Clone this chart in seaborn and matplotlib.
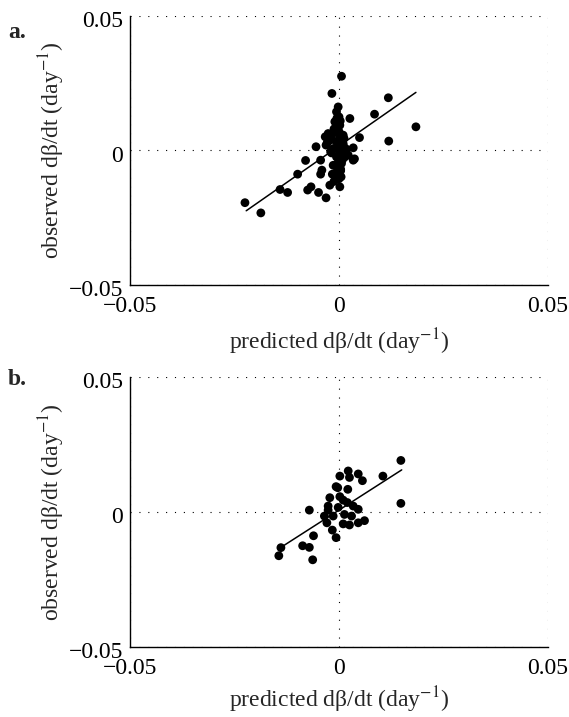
import numpy as np
import pandas as pd
import seaborn as sns
import matplotlib
matplotlib.use("Agg")
import matplotlib.pyplot as plt
from matplotlib.transforms import ScaledTranslation

# donnees (panneau a)
xa = [0.0006, -0.0017, 0.0118, 0.0184, 0.0085, 0.0119, 0.0049, -0.0225, -0.0187,
      -0.0141, -0.0123, -0.0099, -0.0080, -0.0075, -0.0067, -0.0049, -0.0031,
      -0.0022, -0.0016, -0.0044, -0.0041, -0.0044, -0.0055, 0.0002, 0.0005,
      0.0034, 0.0034, 0.0026, -0.0002, -0.0006, -0.0010, 0.0002, -0.0026,
      -0.0033, -0.0022, 0.0010, -0.0006, -0.0031, -0.0014, 0.0006, -0.0006,
      0.0014, 0.0006, -0.0014, 0.0002, -0.0010, 0.0022, 0.0037, 0.0010,
      -0.0018, 0.0000, -0.0004, 0.0004, -0.0008, 0.0012, 0.0001,
      -0.0005, 0.0003, -0.0012, 0.0000, -0.0018, 0.0005, -0.0003, -0.0020,
      0.0008, -0.0002, 0.0004, -0.0008, 0.0000, -0.0012, 0.0010, 0.0018, -0.0028]
ya = [0.0276, 0.0212, 0.0196, 0.0088, 0.0135, 0.0035, 0.0048, -0.0194, -0.0232,
      -0.0145, -0.0156, -0.0088, -0.0037, -0.0147, -0.0135, -0.0156, -0.0176,
      -0.0129, -0.0088, -0.0088, -0.0073, -0.0036, 0.0014, -0.0135, -0.0098,
      0.0010, -0.0036, 0.0119, 0.0162, 0.0144, 0.0107, 0.0094, 0.0063,
      0.0051, 0.0038, 0.0057, 0.0032, 0.0020, 0.0007, -0.0005, -0.0024,
      -0.0024, -0.0048, -0.0055, 0.0051, 0.0069, -0.0017, -0.0031, 0.0018,
      -0.0009, 0.0125, -0.0065, -0.0075, 0.0085, 0.0045, -0.0012,
      0.0120, 0.0110, 0.0080, 0.0070, 0.0050, 0.0030, 0.0010, -0.0005,
      -0.0035, -0.0045, -0.0070, -0.0085, -0.0105, -0.0115, 0.0025, 0.0005, 0.0030]
fit_xa = [-0.0222, 0.0184]
fit_ya = [-0.0224, 0.0216]

# panneau b
xb = [0.0148, 0.0148, 0.0105, 0.0022, 0.0002, 0.0025, 0.0046, 0.0056, -0.0007,
      -0.0003, 0.0021, -0.0022, 0.0002, 0.0010, -0.0026, -0.0002, 0.0020,
      0.0034, 0.0046, -0.0071, -0.0035, -0.0014, 0.0013, 0.0030, -0.0029,
      0.0010, 0.0025, 0.0046, 0.0061, -0.0016, -0.0007, -0.0061, -0.0087,
      -0.0071, -0.0139, -0.0144, -0.0063, -0.0026]
yb = [0.0191, 0.0032, 0.0133, 0.0152, 0.0133, 0.0128, 0.0141, 0.0116, 0.0094,
      0.0090, 0.0084, 0.0053, 0.0057, 0.0044, 0.0022, 0.0017, 0.0035,
      0.0022, 0.0010, 0.0007, -0.0015, -0.0015, -0.0009, -0.0015, -0.0040,
      -0.0044, -0.0048, -0.0040, -0.0032, -0.0067, -0.0095, -0.0088, -0.0125,
      -0.0131, -0.0132, -0.0162, -0.0177, 0.0007]
fit_xb = [-0.0133, 0.0150]
fit_yb = [-0.0125, 0.0156]

ticks = [-0.05, 0, 0.05]
tick_labels = ["\u22120.05", "0", "0.05"]

sns.set_style("white")
plt.rcParams['font.family'] = ['Liberation Serif', 'DejaVu Serif']
plt.rcParams['mathtext.fontset'] = 'stix'

fig = plt.figure(figsize=(5.69, 7.17), dpi=100)
ax_a = fig.add_axes([0.2285, 0.6025, 0.7346, 0.3752])
ax_b = fig.add_axes([0.2285, 0.0976, 0.7346, 0.3766])

# lettre : position (fraction des axes, ligne de base) ; ecart du titre x
panneaux = [(ax_a, xa, ya, fit_xa, fit_ya, "a.", 0.92, 7),
            (ax_b, xb, yb, fit_xb, fit_yb, "b.", 0.97, 4)]

decalage = ScaledTranslation(0, -2.5 / 72, fig.dpi_scale_trans)

for ax, x, y, fx, fy, lettre, ylettre, lpad in panneaux:
    df = pd.DataFrame({"pred": x, "obs": y})
    sns.scatterplot(data=df, x="pred", y="obs", ax=ax, color="black",
                    s=40, edgecolor="none", zorder=3)
    sns.lineplot(x=fx, y=fy, ax=ax, color="black", linewidth=1.1, zorder=4)
    ax.set_xlim(-0.05, 0.05)
    ax.set_ylim(-0.05, 0.05)
    ax.set_xticks(ticks)
    ax.set_yticks(ticks)
    ax.set_xticklabels(tick_labels)
    ax.set_yticklabels(tick_labels)
    ax.grid(True, linestyle=(0, (1, 7)), color="black", linewidth=0.8)
    ax.set_axisbelow(True)
    for s in ["top", "right"]:
        ax.spines[s].set_visible(False)
    for s in ["left", "bottom"]:
        ax.spines[s].set_color("black")
        ax.spines[s].set_linewidth(1.0)
    ax.tick_params(direction="in", length=3, width=0.8, labelsize=17,
                   colors="black")
    ax.tick_params(axis="x", pad=8)
    ax.tick_params(axis="y", pad=5)
    for lab in ax.get_yticklabels():
        lab.set_transform(lab.get_transform() + decalage)
    ax.set_xlabel("predicted d\u03b2/dt (day$^{-1}$)", fontsize=17, labelpad=lpad)
    ax.set_ylabel("observed d\u03b2/dt (day$^{-1}$)", fontsize=17, labelpad=1)
    ax.text(-0.292, ylettre, lettre, transform=ax.transAxes, fontsize=17,
            fontweight="bold", ha="left", va="baseline")

fig.savefig("out.png", dpi=100)
